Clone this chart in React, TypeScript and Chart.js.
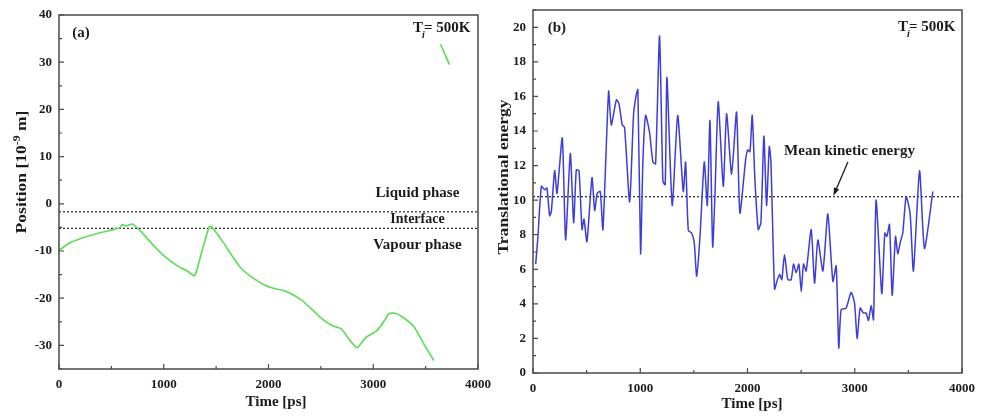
import React, { useEffect, useRef } from "react";
import { Chart, registerables } from "chart.js";

Chart.register(...registerables);

// ---------- data ----------
const timeTicks = [0, 1000, 2000, 3000, 4000];
const positionTicks = [-30, -20, -10, 0, 10, 20, 30, 40];
const energyTicks = [0, 2, 4, 6, 8, 10, 12, 14, 16, 18, 20];

// (a) particle position [1e-9 m] vs time [ps]
const posTime = [0, 92, 187, 347, 474, 586, 602, 640, 672, 703, 793, 888, 1000, 1127, 1222, 1295, 1366, 1436, 1461, 1557, 1652, 1732, 1843, 1970, 2066, 2161, 2321, 2512, 2607, 2696, 2766, 2846, 2925, 3037, 3117, 3148, 3212, 3292, 3387, 3483, 3578];
const posValue = [-9.9, -8.4, -7.5, -6.4, -5.7, -5.0, -4.4, -4.7, -4.4, -4.3, -6.1, -8.5, -11.0, -13.1, -14.2, -15.2, -9.9, -4.8, -5.0, -7.8, -11.0, -13.5, -15.6, -17.3, -18.0, -18.5, -20.5, -24.4, -25.8, -26.5, -28.6, -30.5, -28.4, -26.8, -24.4, -23.3, -23.2, -24.2, -26.0, -29.7, -33.2];
// wrapped segment (periodic boundary)
const wrapTime = [3642, 3728];
const wrapValue = [33.8, 29.5];
const liquidBoundary = -1.7;
const vapourBoundary = -5.2;

// (b) translational energy vs time [ps]
const energyTime = [25, 45, 78, 109, 130, 155, 171, 202, 224, 273, 304, 348, 379, 404, 429, 457, 475, 503, 550, 575, 599, 627, 652, 705, 730, 777, 801, 832, 854, 901, 938, 963, 978, 1003, 1025, 1050, 1087, 1118, 1143, 1180, 1211, 1233, 1249, 1298, 1349, 1401, 1423, 1448, 1479, 1504, 1526, 1557, 1597, 1625, 1650, 1675, 1696, 1727, 1774, 1805, 1852, 1898, 1929, 1982, 2001, 2023, 2044, 2069, 2100, 2125, 2153, 2178, 2203, 2218, 2252, 2274, 2299, 2320, 2345, 2376, 2407, 2429, 2454, 2479, 2501, 2522, 2547, 2594, 2625, 2656, 2703, 2749, 2796, 2827, 2851, 2873, 2920, 2966, 2998, 3022, 3050, 3081, 3106, 3128, 3153, 3175, 3199, 3252, 3280, 3299, 3324, 3349, 3380, 3401, 3426, 3448, 3479, 3516, 3547, 3604, 3650, 3728];
const energyValue = [6.3, 7.8, 10.8, 10.6, 10.7, 9.1, 9.35, 11.7, 10.4, 13.6, 7.7, 12.7, 8.7, 11.75, 11.7, 8.3, 8.9, 7.6, 11.3, 9.4, 10.4, 10.5, 8.3, 16.3, 14.35, 15.8, 15.6, 14.35, 14.2, 9.9, 15.0, 16.1, 16.4, 6.9, 12.3, 14.9, 13.9, 12.2, 12.1, 19.5, 11.1, 10.9, 17.1, 9.7, 14.9, 10.5, 12.2, 8.25, 8.1, 7.5, 5.6, 7.9, 12.2, 9.7, 14.6, 7.3, 10.2, 15.7, 10.8, 15.0, 11.5, 15.1, 9.25, 12.3, 12.9, 12.8, 14.9, 11.2, 8.3, 8.7, 13.7, 9.7, 13.1, 12.3, 4.85, 5.3, 5.7, 5.4, 6.85, 5.4, 5.4, 6.3, 5.8, 6.3, 4.7, 6.3, 5.9, 8.3, 5.2, 7.7, 5.9, 9.2, 5.3, 6.2, 1.45, 3.66, 3.76, 4.66, 4.05, 2.0, 3.76, 3.47, 3.47, 3.04, 3.9, 3.08, 10.0, 4.6, 8.1, 7.9, 8.6, 4.5, 7.9, 6.9, 7.6, 8.1, 10.2, 9.25, 5.9, 11.7, 7.2, 10.5];
const meanEnergy = 10.2;

// ---------- styling ----------
const FAMILY = "'Liberation Serif', 'Times New Roman', serif";
const TEXT = "#1c1c1c";
const FRAME = "#4a4a4a";
const GREEN = "#5fe05a";
const BLUE = "#3c3ce0";
const fnt = (size: number, style = "") => `${style} bold ${size}px ${FAMILY}`.trim();

type Label = { text: string; x: number; y: number; size: number; align: CanvasTextAlign };
interface Decor {
  minorX: number;
  minorY: number;
  yTitle: { cx: number; cy: number; parts: { t: string; sup?: boolean }[] };
  xTitle: { cx: number; cy: number; text: string };
  labels: Label[];
  ti: { x: number; y: number };
  arrow?: { x1: number; y1: number; x2: number; y2: number };
}

function decorPlugin(d: Decor) {
  return {
    id: "decor",
    afterDraw(chart: any) {
      const { ctx, chartArea: a, scales } = chart;
      const xs = scales.x;
      const ys = scales.y;
      ctx.save();
      // frame
      ctx.strokeStyle = FRAME;
      ctx.lineWidth = 1.5;
      ctx.strokeRect(a.left, a.top, a.right - a.left, a.bottom - a.top);
      // inward ticks
      ctx.lineWidth = 1.2;
      ctx.beginPath();
      for (let v = xs.min; v <= xs.max + 1e-9; v += d.minorX) {
        const px = xs.getPixelForValue(v);
        const major = timeTicks.includes(v);
        ctx.moveTo(px, a.bottom);
        ctx.lineTo(px, a.bottom - (major ? 5 : 3));
      }
      const yMajor = ys.ticks.map((t: any) => t.value);
      const start = Math.ceil(ys.min / d.minorY) * d.minorY;
      for (let v = start; v <= ys.max + 1e-9; v += d.minorY) {
        const py = ys.getPixelForValue(v);
        const major = yMajor.includes(v);
        ctx.moveTo(a.left, py);
        ctx.lineTo(a.left + (major ? 5 : 3), py);
      }
      ctx.stroke();

      ctx.fillStyle = TEXT;
      ctx.textBaseline = "middle";
      // x title
      ctx.font = fnt(15);
      ctx.textAlign = "center";
      ctx.fillText(d.xTitle.text, d.xTitle.cx, d.xTitle.cy);
      // y title (rotated)
      ctx.save();
      ctx.translate(d.yTitle.cx, d.yTitle.cy);
      ctx.rotate(-Math.PI / 2);
      ctx.scale(1.17, 1);
      ctx.textAlign = "left";
      let total = 0;
      const widths = d.yTitle.parts.map((p) => {
        ctx.font = p.sup ? fnt(10) : fnt(15);
        const w = ctx.measureText(p.t).width;
        total += w;
        return w;
      });
      let cx = -total / 2;
      d.yTitle.parts.forEach((p, i) => {
        ctx.font = p.sup ? fnt(10) : fnt(15);
        ctx.fillText(p.t, cx, p.sup ? -5 : 0);
        cx += widths[i];
      });
      ctx.restore();

      // labels in data coordinates
      d.labels.forEach((l) => {
        ctx.font = fnt(l.size);
        ctx.textAlign = l.align;
        ctx.fillText(l.text, xs.getPixelForValue(l.x), ys.getPixelForValue(l.y));
      });

      // T_i = 500K (right aligned)
      {
        const xr = xs.getPixelForValue(d.ti.x);
        const yc = ys.getPixelForValue(d.ti.y);
        ctx.font = fnt(15);
        const wT = ctx.measureText("T").width;
        const wR = ctx.measureText("= 500K").width;
        const x0 = xr - (wT + 1 + wR);
        ctx.textAlign = "left";
        ctx.fillText("T", x0, yc);
        ctx.fillText("= 500K", x0 + wT + 1, yc);
        ctx.font = fnt(10, "italic");
        ctx.fillText("i", x0 + wT - 1, yc + 7);
      }

      // arrow
      if (d.arrow) {
        const x1 = xs.getPixelForValue(d.arrow.x1);
        const y1 = ys.getPixelForValue(d.arrow.y1);
        const x2 = xs.getPixelForValue(d.arrow.x2);
        const y2 = ys.getPixelForValue(d.arrow.y2);
        const ang = Math.atan2(y2 - y1, x2 - x1);
        ctx.strokeStyle = TEXT;
        ctx.lineWidth = 1.3;
        ctx.beginPath();
        ctx.moveTo(x1, y1);
        ctx.lineTo(x2 - 6 * Math.cos(ang), y2 - 6 * Math.sin(ang));
        ctx.stroke();
        ctx.beginPath();
        ctx.moveTo(x2, y2);
        ctx.lineTo(x2 - 8 * Math.cos(ang) + 2.8 * Math.sin(ang), y2 - 8 * Math.sin(ang) - 2.8 * Math.cos(ang));
        ctx.lineTo(x2 - 8 * Math.cos(ang) - 2.8 * Math.sin(ang), y2 - 8 * Math.sin(ang) + 2.8 * Math.cos(ang));
        ctx.closePath();
        ctx.fill();
      }
      ctx.restore();
    },
  };
}

const HEIGHT = 416;

function buildScales(area: { left: number; bottom: number }, yMin: number, yMax: number, yTicks: number[]) {
  const tickFont = { family: FAMILY, size: 13, weight: "bold" as const };
  const plain = (v: any) => String(v);
  return {
    x: {
      type: "linear" as const,
      min: 0,
      max: 4000,
      afterBuildTicks: (s: any) => {
        s.ticks = timeTicks.map((v) => ({ value: v }));
      },
      afterFit: (s: any) => {
        s.height = HEIGHT - area.bottom;
        s.paddingLeft = 0;
        s.paddingRight = 0;
      },
      ticks: { font: tickFont, color: TEXT, padding: 8, autoSkip: false, maxRotation: 0, callback: plain },
      grid: { display: false, drawTicks: false },
      border: { display: false },
    },
    y: {
      type: "linear" as const,
      min: yMin,
      max: yMax,
      afterBuildTicks: (s: any) => {
        s.ticks = yTicks.map((v) => ({ value: v }));
      },
      afterFit: (s: any) => {
        s.width = area.left;
        s.paddingTop = 0;
        s.paddingBottom = 0;
      },
      ticks: { font: tickFont, color: TEXT, padding: 7, autoSkip: false, callback: plain },
      grid: { display: false, drawTicks: false },
      border: { display: false },
    },
  };
}

function PositionChart() {
  const ref = useRef<HTMLCanvasElement | null>(null);
  useEffect(() => {
    if (!ref.current) return;
    const W = 500;
    const area = { left: 59, right: 478, top: 15, bottom: 369 };
    const decor: Decor = {
      minorX: 500,
      minorY: 5,
      yTitle: { cx: 22, cy: 172, parts: [{ t: "Position [10" }, { t: "-9", sup: true }, { t: " m]" }] },
      xTitle: { cx: 276, cy: 402, text: "Time [ps]" },
      labels: [
        { text: "(a)", x: 127, y: 36.2, size: 15, align: "left" },
        { text: "Liquid phase", x: 3422, y: 2.3, size: 15, align: "center" },
        { text: "Interface", x: 3422, y: -3.4, size: 14, align: "center" },
        { text: "Vapour phase", x: 3422, y: -8.7, size: 15, align: "center" },
      ],
      ti: { x: 3928, y: 37.2 },
    };
    const chart = new Chart(ref.current, {
      type: "line",
      data: {
        datasets: [
          {
            data: posTime.map((t, i) => ({ x: t, y: posValue[i] })),
            borderColor: GREEN,
            borderWidth: 1.7,
            pointRadius: 0,
            tension: 0.2,
          },
          {
            data: wrapTime.map((t, i) => ({ x: t, y: wrapValue[i] })),
            borderColor: GREEN,
            borderWidth: 1.7,
            pointRadius: 0,
          },
          {
            data: [{ x: 0, y: liquidBoundary }, { x: 4000, y: liquidBoundary }],
            borderColor: "#222",
            borderWidth: 1.2,
            borderDash: [2, 2],
            pointRadius: 0,
          },
          {
            data: [{ x: 0, y: vapourBoundary }, { x: 4000, y: vapourBoundary }],
            borderColor: "#222",
            borderWidth: 1.2,
            borderDash: [2, 2],
            pointRadius: 0,
          },
        ],
      },
      options: {
        responsive: false,
        animation: false,
        devicePixelRatio: 1,
        layout: { padding: { left: 0, top: area.top, right: W - area.right, bottom: 0 } },
        plugins: { legend: { display: false }, tooltip: { enabled: false } },
        scales: buildScales(area, -35, 40, positionTicks),
      },
      plugins: [decorPlugin(decor)],
    });
    return () => chart.destroy();
  }, []);
  return <canvas ref={ref} width={500} height={HEIGHT} style={{ position: "absolute", left: 0, top: 0 }} />;
}

function EnergyChart() {
  const ref = useRef<HTMLCanvasElement | null>(null);
  useEffect(() => {
    if (!ref.current) return;
    const W = 500;
    const area = { left: 44, right: 473, top: 10, bottom: 373 };
    const decor: Decor = {
      minorX: 500,
      minorY: 1,
      yTitle: { cx: 15, cy: 177, parts: [{ t: "Translational energy" }] },
      xTitle: { cx: 263, cy: 404, text: "Time [ps]" },
      labels: [
        { text: "(b)", x: 137, y: 19.93, size: 15, align: "left" },
        { text: "Mean kinetic energy", x: 2951, y: 12.85, size: 15, align: "center" },
      ],
      ti: { x: 3939, y: 20.0 },
      arrow: { x1: 2936, y1: 12.2, x2: 2801, y2: 10.25 },
    };
    const chart = new Chart(ref.current, {
      type: "line",
      data: {
        datasets: [
          {
            data: energyTime.map((t, i) => ({ x: t, y: energyValue[i] })),
            borderColor: BLUE,
            borderWidth: 1.5,
            pointRadius: 0,
            tension: 0.2,
          },
          {
            data: [{ x: 0, y: meanEnergy }, { x: 4000, y: meanEnergy }],
            borderColor: "#222",
            borderWidth: 1.2,
            borderDash: [2, 2],
            pointRadius: 0,
          },
        ],
      },
      options: {
        responsive: false,
        animation: false,
        devicePixelRatio: 1,
        layout: { padding: { left: 0, top: area.top, right: W - area.right, bottom: 0 } },
        plugins: { legend: { display: false }, tooltip: { enabled: false } },
        scales: buildScales(area, 0, 21, energyTicks),
      },
      plugins: [decorPlugin(decor)],
    });
    return () => chart.destroy();
  }, []);
  return <canvas ref={ref} width={500} height={HEIGHT} style={{ position: "absolute", left: 489, top: 0 }} />;
}

export default function App() {
  return (
    <div style={{ position: "absolute", left: 0, top: 0, width: 989, height: HEIGHT, background: "#fff", overflow: "hidden" }}>
      <PositionChart />
      <EnergyChart />
    </div>
  );
}
